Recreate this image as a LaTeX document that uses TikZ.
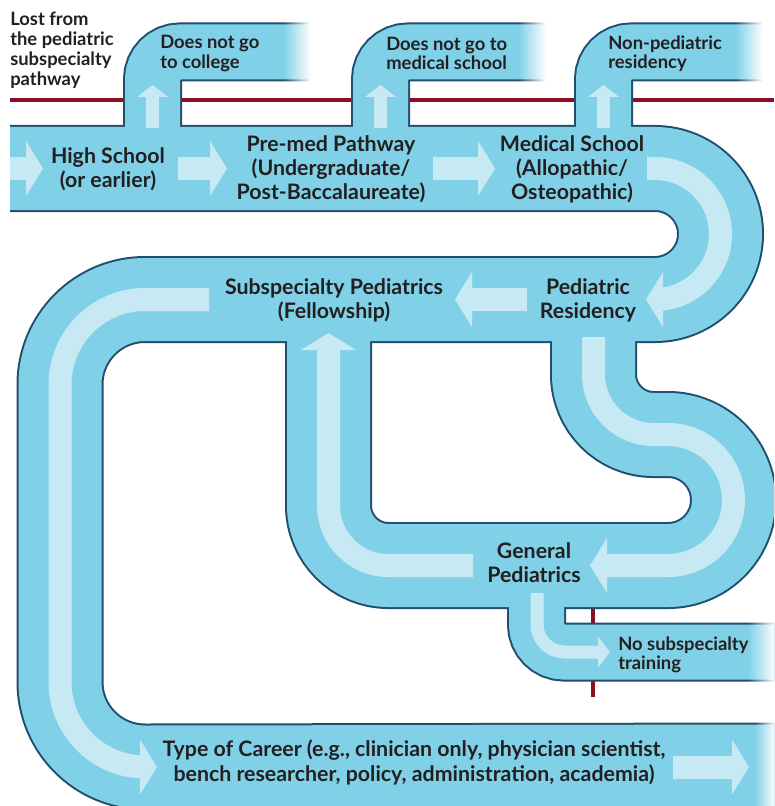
\documentclass[tikz,border=0pt]{standalone}
\usepackage{fontspec}
\setmainfont{Lato}
\usepackage{tikz}
\usetikzlibrary{arrows.meta,fadings}
\definecolor{pipeblue}{HTML}{80D1E8}
\definecolor{paleblue}{HTML}{C7E9F3}
\definecolor{pipeedge}{HTML}{1F4E6E}
\definecolor{lostred}{HTML}{8B1020}
\definecolor{ink}{HTML}{231F20}
\newcommand*{\mainW}{62.25pt}
\newcommand*{\mainE}{65.25pt}
\newcommand*{\sideW}{41.25pt}
\newcommand*{\sideE}{44.25pt}
\tikzfading[name=whiteout, left color=transparent!100, right color=transparent!0]

\begin{document}
\begin{tikzpicture}[x=0.75pt,y=-0.75pt,
    stage/.style={font=\bfseries\fontsize{16}{18}\selectfont, align=center, text=ink, inner sep=0pt},
    exit/.style={font=\bfseries\fontsize{13.8}{14.5}\selectfont, align=left, text=ink, anchor=west, inner sep=0pt},
    flow/.style={paleblue, line width=17.25pt, -{Triangle[width=41.25pt,length=12.75pt,line width=0pt]}},
    leak/.style={paleblue, line width=9.75pt, -{Triangle[width=23.25pt,length=9pt,line width=0pt]}}]
    \useasboundingbox (0,0) rectangle (774,806);
    \clip (0,0) rectangle (774,806);

    % lost from the pathway
    \draw [lostred, line width=3pt] (10,100) -- (774,100);
    \draw [lostred, line width=2.5pt] (593,608) -- (593,697);

    % pipes: edge first, then the fill
    \foreach \c/\w/\s in {pipeedge/\mainE/\sideE, pipeblue/\mainW/\sideW} {
      \draw [\c, line width=\w] (10,168.5) -- (655,168.5)
        arc [start angle=-90, end angle=90, radius=65.5] -- (145,299.5)
        arc [start angle=-90, end angle=-180, radius=85] -- (60,682)
        arc [start angle=180, end angle=90, radius=85] -- (790,766);
      \draw [\c, line width=\w] (593.5,299.5) -- (593.5,374.5)
        arc [start angle=180, end angle=90, radius=60] -- (668,434.5)
        arc [start angle=-90, end angle=90, radius=65.5] -- (388.5,565.5)
        arc [start angle=90, end angle=180, radius=60] -- (328.5,299.5);
      \draw [\c, line width=\s] (152.5,168.5) -- (152.5,79.5)
        arc [start angle=180, end angle=270, radius=27.5] -- (310,52);
      \draw [\c, line width=\s] (380.5,168.5) -- (380.5,79.5)
        arc [start angle=180, end angle=270, radius=27.5] -- (545,52);
      \draw [\c, line width=\s] (603.5,168.5) -- (603.5,79.5)
        arc [start angle=180, end angle=270, radius=27.5] -- (762,52);
      \draw [\c, line width=\s] (536.5,565.5) -- (536.5,624.5)
        arc [start angle=180, end angle=90, radius=27.5] -- (790,652);
    }

    % flow arrows
    \draw [flow] (10,168.5) -- (43,168.5);
    \draw [flow] (178,168.5) -- (227,168.5);
    \draw [flow] (433,168.5) -- (495,168.5);
    \draw [flow] (647,168.5) -- (655,168.5)
      arc [start angle=-90, end angle=90, radius=65.5] -- (646,299.5);
    \draw [flow] (527,299.5) -- (455,299.5);
    \draw [flow] (209,299.5) -- (145,299.5)
      arc [start angle=-90, end angle=-180, radius=85] -- (60,682)
      arc [start angle=180, end angle=90, radius=85] -- (157,767);
    \draw [flow] (673,767) -- (749,767);
    \draw [flow] (593.5,337) -- (593.5,374.5)
      arc [start angle=180, end angle=90, radius=60] -- (668,434.5)
      arc [start angle=-90, end angle=90, radius=65.5] -- (590,565.5);
    \draw [flow] (473,565.5) -- (388.5,565.5)
      arc [start angle=90, end angle=180, radius=60] -- (328.5,333);
    \draw [leak] (537,593) -- (537,624.5)
      arc [start angle=180, end angle=90, radius=27.5] -- (610,652);
    \foreach \x in {152.5,380.5,603.5} {
      \draw [leak] (\x,128) -- (\x,85);
    }

    % pipe ends fade out
    \fill [white, path fading=whiteout] (283,20) rectangle (311,84);
    \fill [white, path fading=whiteout] (518,20) rectangle (546,84);
    \fill [white, path fading=whiteout] (735,20) rectangle (763,84);
    \fill [white, path fading=whiteout] (748,620) rectangle (775,684);
    \fill [white, path fading=whiteout] (755,722) rectangle (775,812);

    % labels
    \node [stage] (school) at (108,169) {High School\\(or earlier)};
    \node [stage] (premed) at (331,169) {Pre-med Pathway\\(Undergraduate/\\Post-Baccalaureate)};
    \node [stage] (medschool) at (572,169) {Medical School\\(Allopathic/\\Osteopathic)};
    \node [stage] (fellowship) at (334,300.5) {Subspecialty Pediatrics\\(Fellowship)};
    \node [stage] (residency) at (588,300.5) {Pediatric\\Residency};
    \node [stage] (general) at (534,562.5) {General\\Pediatrics};
    \node [stage, font=\bfseries\fontsize{16}{18.75}\selectfont] (career) at (414,762.5)
      {Type of Career (e.g., clinician only, physician scientist,\\bench researcher, policy, administration, academia)};

    \node [exit, font=\bfseries\fontsize{13.8}{15}\selectfont] (lost) at (10,50.5) {Lost from\\the pediatric\\subspecialty\\pathway};
    \node [exit] (nocollege) at (160,53.5) {Does not go\\to college};
    \node [exit] (nomed) at (386,53.5) {Does not go to\\medical school};
    \node [exit] (nonped) at (608,53.5) {Non-pediatric\\residency};
    \node [exit] (nosub) at (618,654.5) {No subspecialty\\training};
\end{tikzpicture}
\end{document}
